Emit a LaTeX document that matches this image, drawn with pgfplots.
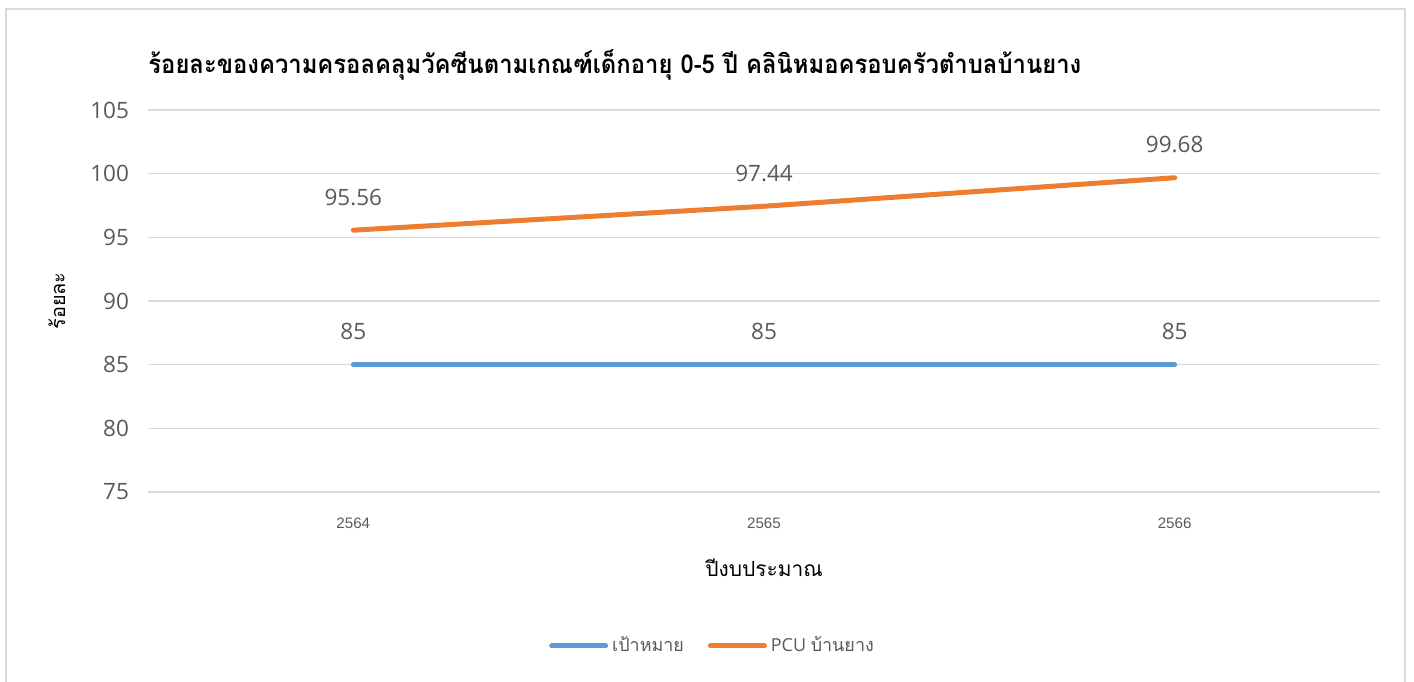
\documentclass[border=0pt]{standalone}
\usepackage{pgfplots}
\pgfplotsset{compat=1.18}
\usepackage{fontspec}
\setmainfont{Open Sans}
\newfontfamily\thaifont[Script=Thai]{Loma}
\newfontfamily\thaititle[Script=Thai, FakeStretch=0.92]{Loma}
\newfontfamily\arialfont{Liberation Sans}
\definecolor{gridc}{HTML}{D9D9D9}
\definecolor{txt}{HTML}{595959}
\definecolor{cblue}{HTML}{5B9BD5}
\definecolor{corange}{HTML}{ED7D31}
\begin{document}
\begin{tikzpicture}
\useasboundingbox (0,0) rectangle (707bp,-341bp);
\draw[gridc, line width=0.8bp] (3bp,-345bp) -- (3bp,-4.5bp) -- (702.5bp,-4.5bp) -- (702.5bp,-345bp);
\begin{axis}[
  at={(74bp,-246bp)}, anchor=south west,
  scale only axis, width=616bp, height=191bp,
  xmin=-0.5, xmax=2.5, ymin=75, ymax=105,
  xtick={0,1,2}, xticklabels={2564,2565,2566},
  ytick={75,80,85,90,95,100,105},
  axis line style={draw=none},
  major tick length=0pt,
  ymajorgrids, grid style={gridc, line width=0.8bp},
  /pgf/number format/assume math mode=true,
  yticklabel style={font=\fontsize{11.3}{13}\selectfont, text=txt, xshift=-6bp},
  xticklabel style={font=\arialfont\fontsize{7.6}{9}\selectfont, text=txt, yshift=-9.5bp},
  title={\thaititle\bfseries ร้อยละของความครอลคลุมวัคซีนตามเกณฑ์เด็กอายุ 0-5 ปี คลินิหมอครอบครัวตำบลบ้านยาง},
  title style={at={(axis description cs:0,1.086)}, anchor=west, inner sep=0pt, font=\fontsize{13}{15}\selectfont, text=black},
  xlabel={\thaifont ปีงบประมาณ},
  xlabel style={at={(axis description cs:0.5,-0.199)}, anchor=center, font=\fontsize{10.5}{12}\selectfont, text=black},
  ylabel={\thaifont ร้อยละ},
  ylabel style={at={(axis description cs:-0.074,0.5)}, anchor=center, font=\fontsize{10}{12}\selectfont, text=black},
  nodes near coords={\pgfplotspointmeta},
  point meta=explicit symbolic,
  every node near coord/.style={anchor=center, yshift=16.5bp, font=\fontsize{11.3}{13}\selectfont, text=txt},
  legend style={at={(axis description cs:0.459,-0.403)}, anchor=center, draw=none, fill=none,
    legend columns=2, font=\fontsize{9}{11}\selectfont, text=txt,
    /tikz/every even column/.append style={column sep=10bp},
    /tikz/every odd column/.append style={inner xsep=0pt}},
  legend image code/.code={\draw[#1, line cap=round] (0bp,0bp) -- (27bp,0bp);},
]
\addplot[cblue, line width=2.5bp, line cap=round] coordinates {(0,85)[85] (1,85)[85] (2,85)[85]};
\addlegendentry{\thaifont เป้าหมาย}
\addplot[corange, line width=2.5bp, line cap=round] coordinates {(0,95.56)[95.56] (1,97.44)[97.44] (2,99.68)[99.68]};
\addlegendentry{PCU {\thaifont บ้านยาง}}
\end{axis}
\end{tikzpicture}
\end{document}
